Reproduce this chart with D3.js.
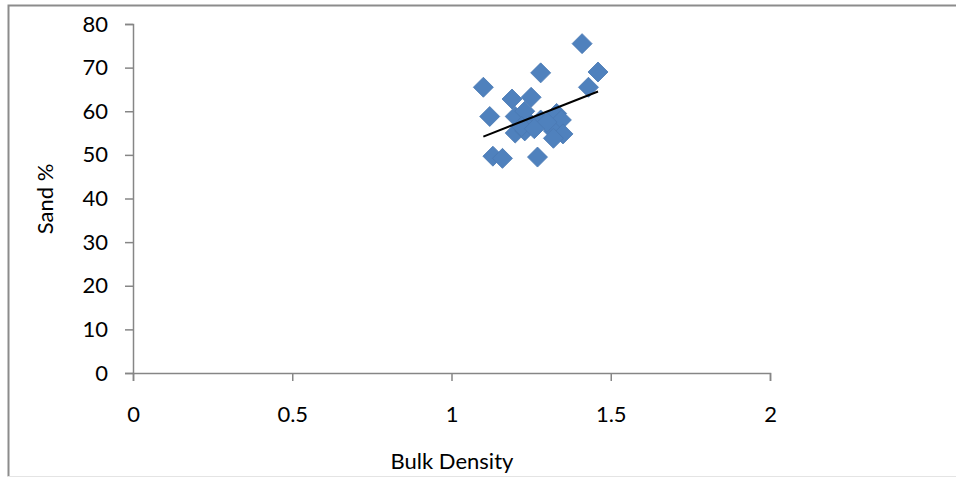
<!DOCTYPE html>
<html>
<head>
<meta charset="utf-8">
<script src="https://cdn.jsdelivr.net/npm/d3@7"></script>
<style>
  body { margin: 0; background: #fff; }
  .axis text { font-family: Lato, "Open Sans", sans-serif; font-size: 22px; fill: #000; }
  .axis path, .axis line { stroke: #868686; stroke-width: 1.5; }
</style>
</head>
<body>
<div id="chart"></div>
<script>
// bulk density vs sand %
const bulkDensity = [1.41, 1.46, 1.43, 1.10, 1.28, 1.25, 1.19, 1.12, 1.20, 1.13, 1.16, 1.27,
                     1.20, 1.23, 1.25, 1.28, 1.33, 1.345, 1.32, 1.35, 1.32, 1.23, 1.30, 1.22, 1.26];
const sandPct     = [75.5, 69.0, 65.5, 65.5, 68.8, 63.2, 62.8, 58.8, 58.8, 49.7, 49.2, 49.5,
                     55.0, 55.5, 57.0, 58.0, 59.5, 58.0, 55.5, 54.8, 53.8, 60.0, 57.5, 56.5, 56.0];
const xTicks = [0, 0.5, 1, 1.5, 2];
const yTicks = [0, 10, 20, 30, 40, 50, 60, 70, 80];
const xTitle = 'Bulk Density';
const yTitle = 'Sand %';

const width = 956, height = 478;
const margin = {top: 24, right: 186, bottom: 105, left: 133};

const svg = d3.select('#chart').append('svg')
    .attr('width', width)
    .attr('height', height);

// outer chart border
svg.append('path')
    .attr('d', 'M8.5,' + (height - 1.5) + 'V5.5H' + width)
    .attr('fill', 'none')
    .attr('stroke', '#8c8c8c')
    .attr('stroke-width', 2);
svg.append('line')
    .attr('x1', 8).attr('x2', width)
    .attr('y1', height - 1.5).attr('y2', height - 1.5)
    .attr('stroke', '#e4e4e4');

const xScale = d3.scaleLinear()
    .domain([0, 2])
    .range([margin.left, width - margin.right]);

const yScale = d3.scaleLinear()
    .domain([0, 80])
    .range([height - margin.bottom, margin.top]);

svg.append('g')
    .attr('class', 'axis')
    .attr('transform', 'translate(0,' + (height - margin.bottom) + ')')
    .call(d3.axisBottom(xScale).tickValues(xTicks).tickSize(8).tickPadding(34).tickFormat(d3.format('')))
    .call(g => g.selectAll('text').attr('dy', '0.32em'));

svg.append('g')
    .attr('class', 'axis')
    .attr('transform', 'translate(' + margin.left + ',0)')
    .call(d3.axisLeft(yScale).tickValues(yTicks).tickSize(8).tickPadding(17));

svg.append('text')
    .attr('x', 452).attr('y', 469)
    .attr('text-anchor', 'middle')
    .style('font-family', 'Lato, "Open Sans", sans-serif')
    .style('font-size', '22px')
    .text(xTitle);

svg.append('text')
    .attr('transform', 'translate(53,199) rotate(-90)')
    .attr('text-anchor', 'middle')
    .style('font-family', 'Lato, "Open Sans", sans-serif')
    .style('font-size', '22px')
    .text(yTitle);

const points = bulkDensity.map((x, i) => ({x: x, y: sandPct[i]}));

// diamonds
svg.append('g').selectAll('path')
    .data(points)
    .join('path')
    .attr('d', d3.symbol().type(d3.symbolSquare).size(200))
    .attr('transform', d => 'translate(' + xScale(d.x) + ',' + yScale(d.y) + ') rotate(45)')
    .attr('fill', '#4f81bd')
    .attr('stroke', '#4a7ab4')
    .attr('stroke-width', 0.8);

// linear trend line
const mx = d3.mean(points, d => d.x), my = d3.mean(points, d => d.y);
const slope = d3.sum(points, d => (d.x - mx) * (d.y - my)) / d3.sum(points, d => (d.x - mx) * (d.x - mx));
const icept = my - slope * mx;
const [x0, x1] = d3.extent(bulkDensity);

svg.append('line')
    .attr('x1', xScale(x0)).attr('y1', yScale(icept + slope * x0))
    .attr('x2', xScale(x1)).attr('y2', yScale(icept + slope * x1))
    .attr('stroke', '#000')
    .attr('stroke-width', 2);
</script>
</body>
</html>
